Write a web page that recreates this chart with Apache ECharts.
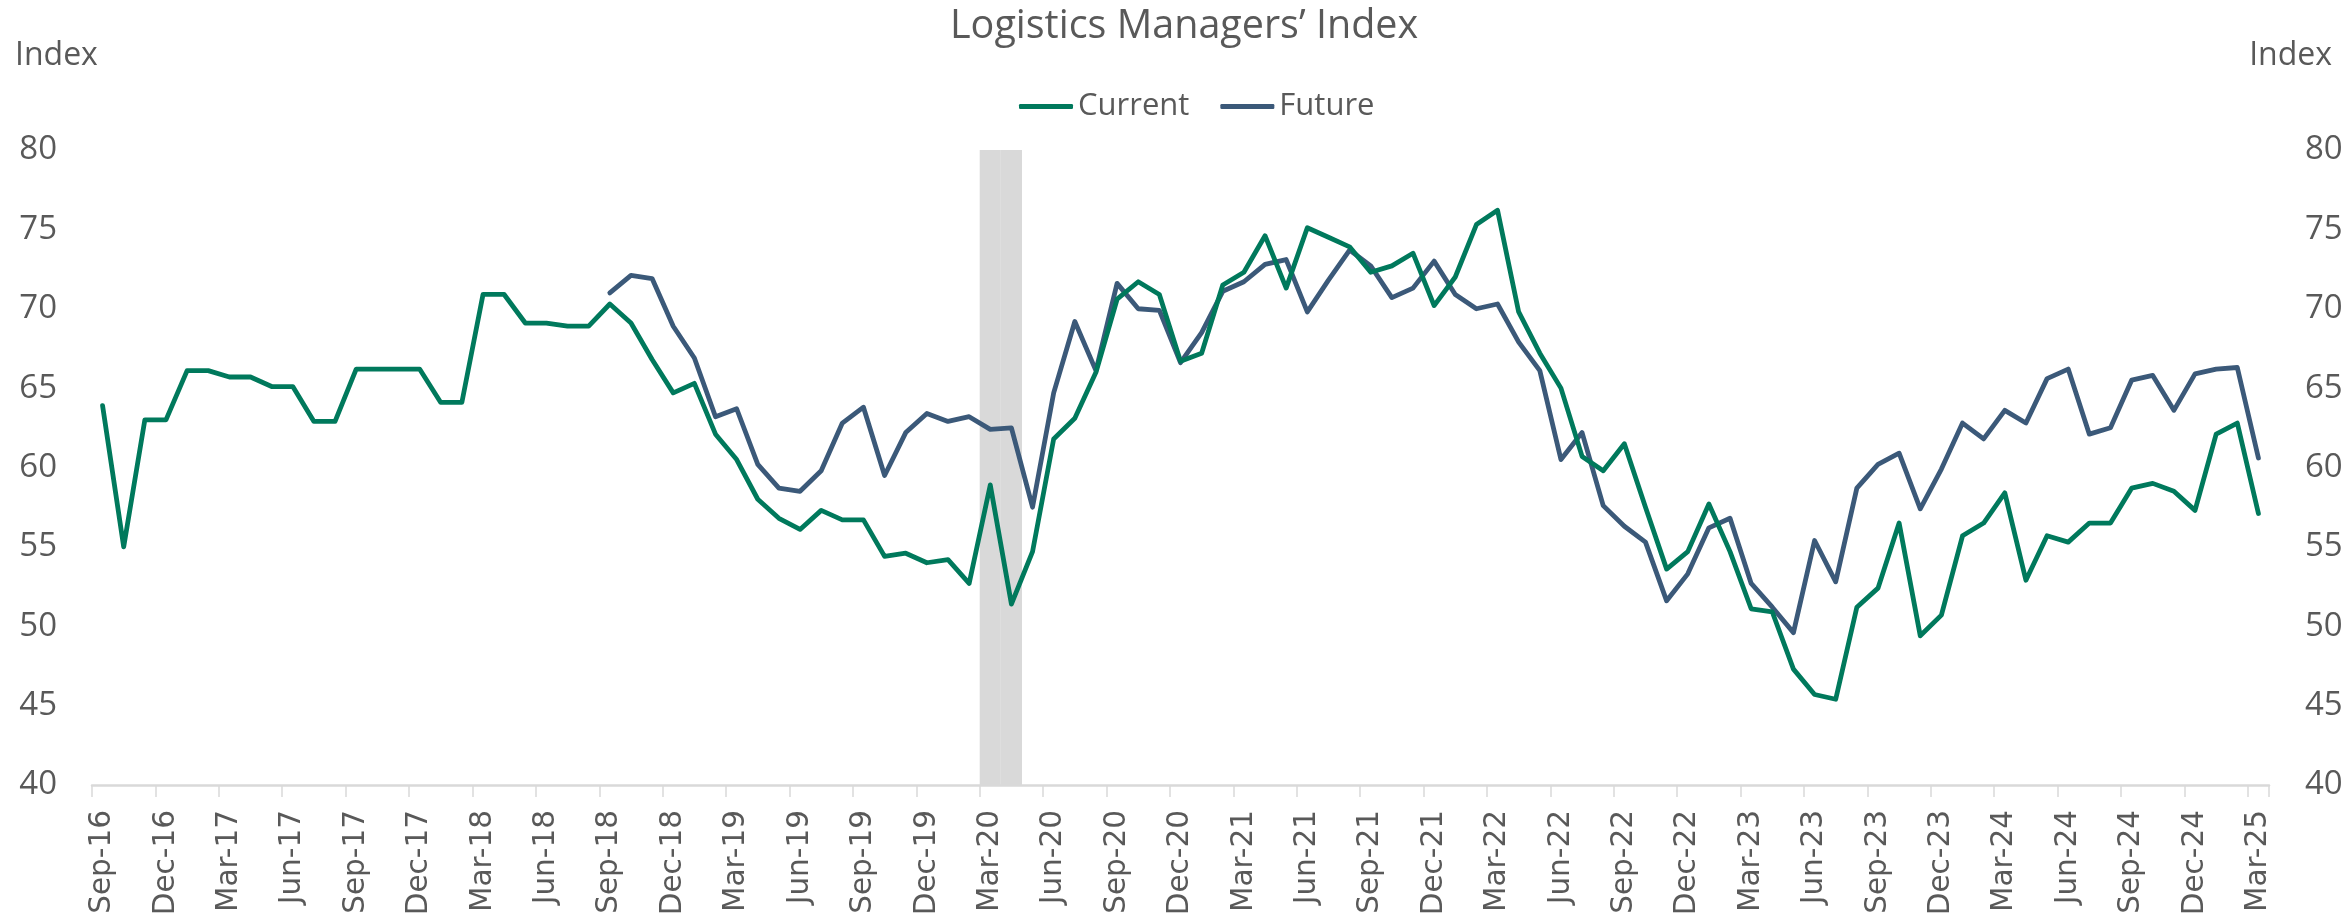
<!DOCTYPE html>
<html>
<head>
<meta charset="utf-8">
<script src="https://cdn.jsdelivr.net/npm/echarts@6/dist/echarts.min.js"></script>
<style>
html,body{margin:0;padding:0;background:#fff;}
#chart{width:2349px;height:921px;}
</style>
</head>
<body>
<div id="chart"></div>
<script>
var months = ["Sep-16","Oct-16","Nov-16","Dec-16","Jan-17","Feb-17","Mar-17","Apr-17","May-17","Jun-17","Jul-17","Aug-17",
"Sep-17","Oct-17","Nov-17","Dec-17","Jan-18","Feb-18","Mar-18","Apr-18","May-18","Jun-18","Jul-18","Aug-18",
"Sep-18","Oct-18","Nov-18","Dec-18","Jan-19","Feb-19","Mar-19","Apr-19","May-19","Jun-19","Jul-19","Aug-19",
"Sep-19","Oct-19","Nov-19","Dec-19","Jan-20","Feb-20","Mar-20","Apr-20","May-20","Jun-20","Jul-20","Aug-20",
"Sep-20","Oct-20","Nov-20","Dec-20","Jan-21","Feb-21","Mar-21","Apr-21","May-21","Jun-21","Jul-21","Aug-21",
"Sep-21","Oct-21","Nov-21","Dec-21","Jan-22","Feb-22","Mar-22","Apr-22","May-22","Jun-22","Jul-22","Aug-22",
"Sep-22","Oct-22","Nov-22","Dec-22","Jan-23","Feb-23","Mar-23","Apr-23","May-23","Jun-23","Jul-23","Aug-23",
"Sep-23","Oct-23","Nov-23","Dec-23","Jan-24","Feb-24","Mar-24","Apr-24","May-24","Jun-24","Jul-24","Aug-24",
"Sep-24","Oct-24","Nov-24","Dec-24","Jan-25","Feb-25","Mar-25"];

var current = [63.9,55.0,63.0,63.0,66.1,66.1,65.7,65.7,65.1,65.1,62.9,62.9,
66.2,66.2,66.2,66.2,64.1,64.1,70.9,70.9,69.1,69.1,68.9,68.9,
70.3,69.1,66.8,64.7,65.3,62.1,60.5,58.0,56.8,56.1,57.3,56.7,
56.7,54.4,54.6,54.0,54.2,52.7,58.9,51.4,54.7,61.8,63.1,66.0,
70.6,71.7,70.9,66.7,67.2,71.5,72.3,74.6,71.3,75.1,74.5,73.9,
72.3,72.7,73.5,70.2,72.0,75.3,76.2,69.8,67.2,65.0,60.7,59.8,
61.5,57.5,53.6,54.7,57.7,54.7,51.1,50.9,47.3,45.7,45.4,51.2,
52.4,56.5,49.4,50.7,55.7,56.5,58.4,52.9,55.7,55.3,56.5,56.5,
58.7,59.0,58.5,57.3,62.1,62.8,57.1];

var future = [null,null,null,null,null,null,null,null,null,null,null,null,
null,null,null,null,null,null,null,null,null,null,null,null,
71.0,72.1,71.9,68.9,66.9,63.2,63.7,60.2,58.7,58.5,59.8,62.8,
63.8,59.5,62.2,63.4,62.9,63.2,62.4,62.5,57.5,64.7,69.2,66.1,
71.6,70.0,69.9,66.6,68.5,71.1,71.7,72.8,73.1,69.8,71.8,73.7,
72.7,70.7,71.3,73.0,70.9,70.0,70.3,67.9,66.1,60.5,62.2,57.6,
56.3,55.3,51.6,53.3,56.2,56.8,52.7,51.2,49.6,55.4,52.8,58.7,
60.2,60.9,57.4,59.9,62.8,61.8,63.6,62.8,65.6,66.2,62.1,62.5,
65.5,65.8,63.6,65.9,66.2,66.3,60.6];

var recessionMonths = ["Mar-20","Apr-20"];
var yTicks = {min: 40, max: 80, step: 5};

var recession = months.map(function(m){ return recessionMonths.indexOf(m) >= 0 ? yTicks.max : null; });

var textColor = '#595959';
var fontFam = '"Open Sans", "Noto Sans", sans-serif';

var chart = echarts.init(document.getElementById('chart'), null, {renderer:'canvas'});
chart.setOption({
  animation: false,
  backgroundColor: '#ffffff',
  textStyle: {fontFamily: fontFam},
  graphic: [
    {type:'text', left: 950, top: 7, style:{text:"Logistics Managers\u2019 Index", fontSize: 39.5, fill: textColor, fontFamily: fontFam}},
    {type:'text', left: 15, top: 40, style:{text:'Index', fontSize: 32, fill: textColor, fontFamily: fontFam}},
    {type:'text', right: 17, top: 40, style:{text:'Index', fontSize: 32, fill: textColor, fontFamily: fontFam}}
  ],
  legend: {
    data: ['Current','Future'],
    left: 1014, top: 86,
    itemWidth: 54, itemHeight: 5, itemGap: 31,
    icon: 'roundRect',
    textStyle: {fontSize: 31, color: textColor, fontFamily: fontFam, padding:[0,0,0,0]}
  },
  grid: {left: 92, right: 80, top: 150, bottom: 136, containLabel: false},
  xAxis: {
    type: 'category',
    data: months,
    boundaryGap: true,
    axisLine: {show: true, lineStyle: {color: '#d9d9d9', width: 2.5}},
    axisTick: {show: true, interval: 2, length: 12, lineStyle: {color: '#d9d9d9', width: 1.5}},
    axisLabel: {interval: 2, rotate: 90, fontSize: 29.5, color: textColor, margin: 25, fontFamily: '"DejaVu Sans", sans-serif'},
    splitLine: {show: false}
  },
  yAxis: [
    {type:'value', min: yTicks.min, max: yTicks.max, interval: yTicks.step, position:'left',
     axisLine:{show:false}, axisTick:{show:false}, splitLine:{show:false},
     axisLabel:{fontSize: 33, color: textColor, margin: 35, fontFamily: fontFam}},
    {type:'value', min: yTicks.min, max: yTicks.max, interval: yTicks.step, position:'right',
     axisLine:{show:false}, axisTick:{show:false}, splitLine:{show:false},
     axisLabel:{fontSize: 33, color: textColor, margin: 36, fontFamily: fontFam}}
  ],
  series: [
    {name:'Recession', type:'bar', data: recession, barWidth: '100%', barCategoryGap: '0%',
     itemStyle:{color:'#d9d9d9'}, silent: true, z: 1, legendHoverLink:false},
    {name:'Current', type:'line', data: current, symbol:'none', connectNulls:false,
     lineStyle:{color:'#00795c', width: 4.8, cap:'round', join:'round'}, itemStyle:{color:'#00795c'}, z: 3},
    {name:'Future', type:'line', data: future, symbol:'none', connectNulls:false,
     lineStyle:{color:'#3b5979', width: 4.8, cap:'round', join:'round'}, itemStyle:{color:'#3b5979'}, z: 2}
  ]
});
</script>
</body>
</html>
